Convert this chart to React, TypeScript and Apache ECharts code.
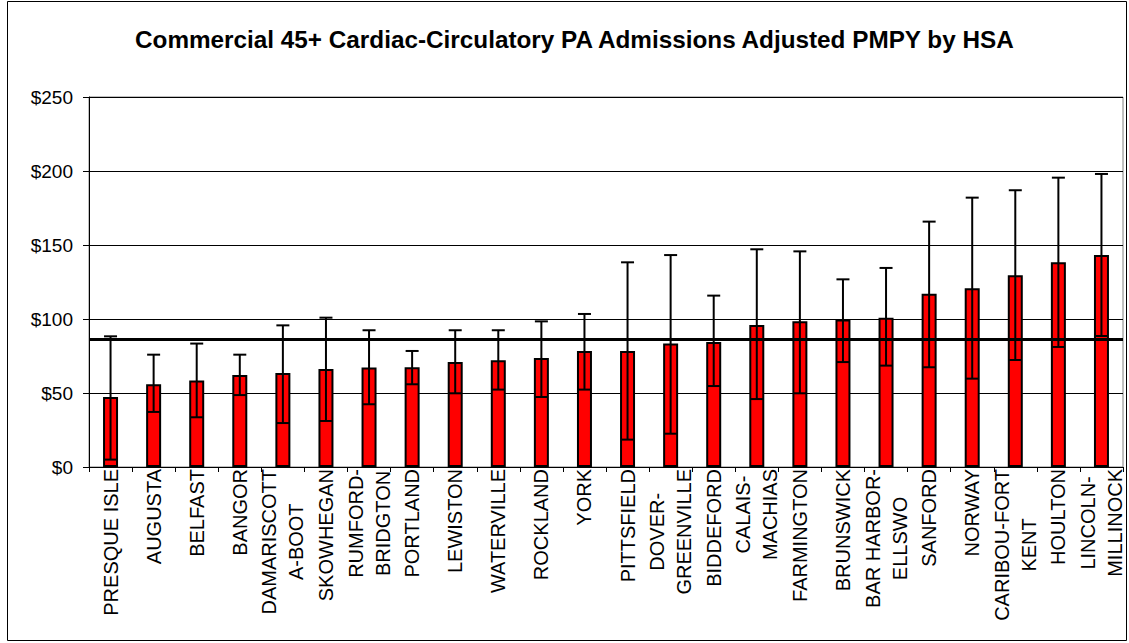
import React, { useEffect, useRef } from "react";
import * as echarts from "echarts";

const titleText = "Commercial 45+ Cardiac-Circulatory PA Admissions Adjusted PMPY by HSA";

const categories = [
  "PRESQUE ISLE", "AUGUSTA", "BELFAST", "BANGOR", "DAMARISCOTT\nA-BOOT", "SKOWHEGAN",
  "RUMFORD-\nBRIDGTON", "PORTLAND", "LEWISTON", "WATERVILLE", "ROCKLAND", "YORK",
  "PITTSFIELD", "DOVER-\nGREENVILLE", "BIDDEFORD", "CALAIS-\nMACHIAS", "FARMINGTON",
  "BRUNSWICK", "BAR HARBOR-\nELLSWO", "SANFORD", "NORWAY", "CARIBOU-FORT\nKENT",
  "HOULTON", "LINCOLN-\nMILLINOCK",
];

const values = [
  47.3, 55.9, 58.4, 62.2, 63.5, 66.2, 67.2, 67.4, 70.9, 72.1, 73.6, 78.4,
  78.4, 83.4, 84.5, 95.9, 98.4, 99.6, 100.9, 117.1, 120.7, 129.5, 138.3, 143.2,
];

const errLow = [
  5, 37.2, 33.6, 48.6, 29.7, 31.1, 42.4, 55.9, 49.8, 52.3, 47.3, 52.3,
  18.5, 22.5, 54.7, 45.9, 49.8, 70.9, 68.5, 67.4, 59.7, 72.3, 81.1, 88.5,
];

const errHigh = [
  88.3, 75.9, 83.4, 75.9, 95.7, 100.9, 92.4, 78.4, 92.4, 92.4, 98.4, 103.4,
  138.3, 143.2, 115.8, 147.1, 145.7, 126.8, 134.5, 165.8, 182, 187, 195.5, 198,
];

const referenceValue = 86.5;

const yTicks = { min: 0, max: 250, interval: 50 };

const FONT = "Arial, 'Liberation Sans', sans-serif";

export default function App() {
  const ref = useRef<HTMLDivElement>(null);

  useEffect(() => {
    if (!ref.current) return;
    const chart = echarts.init(ref.current, undefined, { renderer: "svg" });

    const errData = categories.map((_, i) => [i, errLow[i], errHigh[i]]);

    chart.setOption({
      animation: false,
      backgroundColor: "#ffffff",
      title: {
        text: titleText,
        left: 135,
        top: 27,
        padding: 0,
        textStyle: { fontFamily: FONT, fontSize: 24.3, fontWeight: "bold", color: "#000" },
      },
      graphic: [
        {
          type: "rect",
          shape: { x: 7.5, y: 1.5, width: 1119, height: 639 },
          style: { fill: "none", stroke: "#000", lineWidth: 1 },
          silent: true,
        },
      ],
      grid: {
        left: 89,
        top: 97,
        right: 6,
        bottom: 176,
        show: true,
        borderColor: "#808080",
        borderWidth: 1,
        backgroundColor: "transparent",
      },
      xAxis: {
        type: "category",
        data: categories,
        axisLine: { show: true, lineStyle: { color: "#000", width: 1 } },
        axisTick: { show: true, length: 5, lineStyle: { color: "#000" } },
        axisLabel: {
          interval: 0,
          rotate: 90,
          margin: 2,
          color: "#000",
          fontFamily: FONT,
          fontSize: 20,
          lineHeight: 27,
          formatter: (v: string) =>
            v.split("\n").map((s) => `{c|${s}}`).join("\n"),
          rich: {
            c: { align: "center", fontFamily: FONT, fontSize: 20, lineHeight: 27, color: "#000" },
          },
        },
        splitLine: { show: false },
      },
      yAxis: {
        type: "value",
        min: yTicks.min,
        max: yTicks.max,
        interval: yTicks.interval,
        axisLine: { show: true, lineStyle: { color: "#000", width: 1 } },
        axisTick: { show: true, length: 6, lineStyle: { color: "#000" } },
        axisLabel: {
          margin: 16,
          color: "#000",
          fontFamily: FONT,
          fontSize: 19,
          formatter: (v: number) => `$${v}`,
        },
        splitLine: { show: true, lineStyle: { color: "#000", width: 1 } },
      },
      series: [
        {
          type: "bar",
          data: values,
          barWidth: 15,
          itemStyle: { color: "#ff0000", borderColor: "#000", borderWidth: 2 },
          z: 2,
          markLine: {
            silent: true,
            symbol: "none",
            label: { show: false },
            lineStyle: { color: "#000", width: 3, type: "solid" },
            data: [{ yAxis: referenceValue }],
            z: 5,
          },
        },
        {
          type: "custom",
          data: errData,
          z: 4,
          renderItem: (params: any, api: any) => {
            const i = api.value(0);
            const lo = api.coord([i, api.value(1)]);
            const hi = api.coord([i, api.value(2)]);
            const x = lo[0];
            const hw = 6.5;
            const st = { stroke: "#000", lineWidth: 2 };
            return {
              type: "group",
              children: [
                { type: "line", shape: { x1: x, y1: lo[1], x2: x, y2: hi[1] }, style: st },
                { type: "line", shape: { x1: x - hw, y1: hi[1], x2: x + hw, y2: hi[1] }, style: st },
                { type: "line", shape: { x1: x - hw, y1: lo[1], x2: x + hw, y2: lo[1] }, style: st },
              ],
            };
          },
        },
      ],
    });

    return () => chart.dispose();
  }, []);

  return (
    <div
      ref={ref}
      style={{ position: "fixed", left: 0, top: 0, width: 1129, height: 643 }}
    />
  );
}
